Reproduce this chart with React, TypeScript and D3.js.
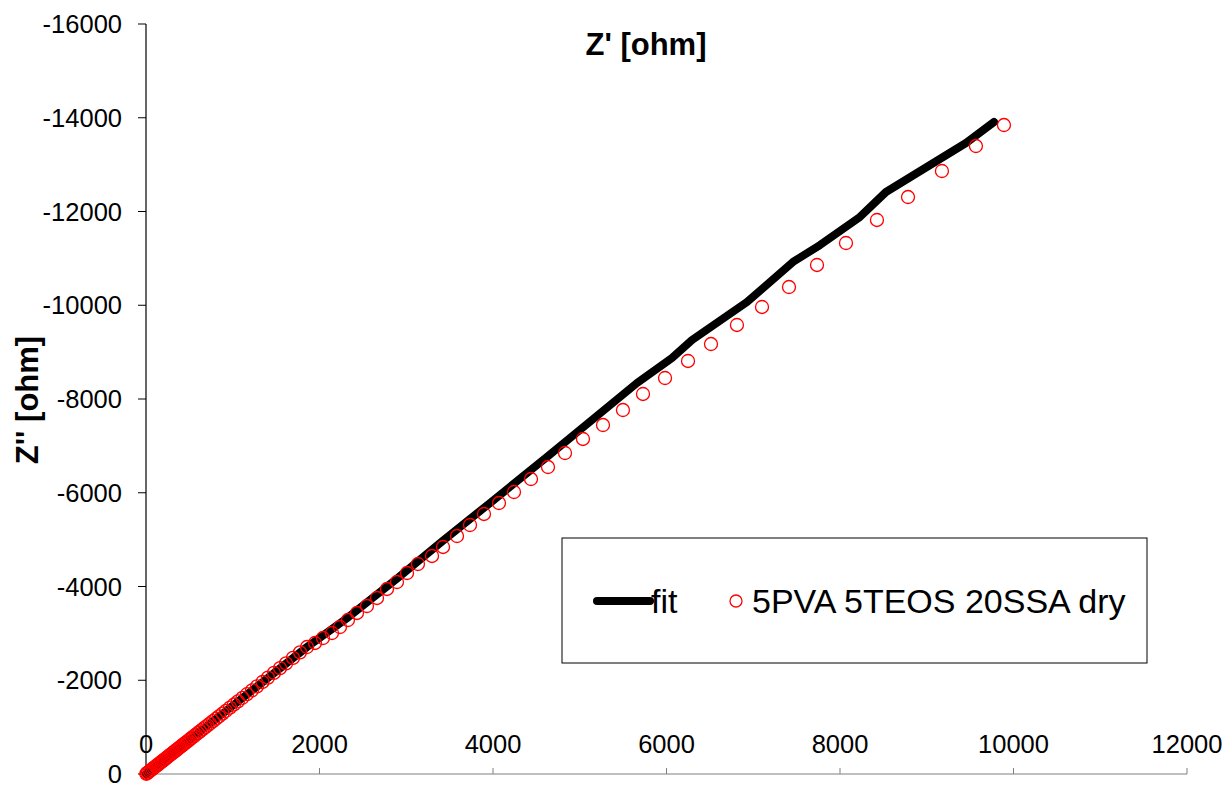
import React from "react";
import * as d3 from "d3";

// Data (Z' and Z'' in ohm)
const fitZre = [0, 1000, 1856, 2328, 2893, 3424, 3965, 4634, 5660, 6063, 6294, 6928, 7458, 7769, 8230, 8530, 9452, 9775];
const fitZim = [0, -1460, -2709, -3340, -4170, -4980, -5781, -6780, -8341, -8875, -9259, -10069, -10923, -11285, -11883, -12416, -13461, -13909];

const dataZre = [
  9890, 9567, 9175, 8784, 8426, 8069, 7735, 7412, 7101, 6812, 6513, 6248, 5983, 5729, 5498, 5268,
  5037, 4830, 4634, 4438, 4242, 4069, 3896, 3735, 3585, 3424, 3297, 3135, 3009, 2893, 2778, 2663,
  2547, 2432, 2328, 2236, 2144, 2040, 1948, 1856, 1775, 1694, 1614, 1545, 1475, 1406, 1343, 1280,
  1222, 1164, 1112, 1060, 1014, 968, 922, 882, 841, 807, 772, 738, 709, 680, 651, 622, 599, 576,
  553, 530, 507, 490, 473, 455, 438, 421, 403, 386, 369, 352, 334, 317, 300, 282, 265, 248, 231,
  213, 196, 179, 161, 144, 127, 110, 92, 75, 58, 40, 23, 12, 3,
];
const dataZim = [
  -13845, -13397, -12864, -12309, -11819, -11328, -10859, -10389, -9963, -9579, -9173, -8811, -8448,
  -8107, -7765, -7445, -7147, -6848, -6549, -6293, -6016, -5781, -5547, -5312, -5077, -4843, -4651,
  -4480, -4288, -4096, -3947, -3755, -3584, -3435, -3285, -3136, -3008, -2901, -2795, -2709, -2595,
  -2477, -2359, -2258, -2157, -2056, -1963, -1870, -1786, -1702, -1626, -1550, -1483, -1415, -1348,
  -1289, -1230, -1180, -1129, -1078, -1036, -994, -952, -910, -876, -843, -809, -775, -741, -716,
  -691, -666, -640, -615, -590, -564, -539, -514, -489, -463, -438, -413, -388, -362, -337, -312,
  -286, -261, -236, -211, -185, -160, -135, -110, -84, -59, -34, -17, -5,
];

const xTicks = [0, 2000, 4000, 6000, 8000, 10000, 12000];
const yTicks = [0, -2000, -4000, -6000, -8000, -10000, -12000, -14000, -16000];

const seriesNames = ["fit", "5PVA 5TEOS 20SSA dry"];
const xTitle = "Z' [ohm]";
const yTitle = "Z'' [ohm]";

const W = 1229;
const H = 787;
const FONT = "'Liberation Sans', Arial, sans-serif";

export default function App() {
  const x = d3.scaleLinear().domain([0, 12000]).range([146, 1187]);
  const y = d3.scaleLinear().domain([0, -16000]).range([774, 24]);

  const fitPts: [number, number][] = fitZre.map((v, i) => [v, fitZim[i]]);
  const line = d3
    .line<[number, number]>()
    .x((d) => x(d[0]))
    .y((d) => y(d[1]));

  return (
    <svg
      width={W}
      height={H}
      style={{ position: "absolute", left: 0, top: 0, background: "#fff" }}
      fontFamily={FONT}
    >
      <rect x={0} y={0} width={W} height={H} fill="#fff" />

      {/* Y axis */}
      <line x1={x(0)} x2={x(0)} y1={y(-16000)} y2={y(0)} stroke="#000" strokeWidth={1.2} />
      {yTicks.map((t) => (
        <g key={"y" + t}>
          <line x1={x(0) - 8} x2={x(0)} y1={y(t)} y2={y(t)} stroke="#000" strokeWidth={1} />
          <text x={122} y={y(t) + 9} textAnchor="end" fontSize={25.5} fill="#000">
            {t}
          </text>
        </g>
      ))}

      {/* X axis */}
      <line x1={x(0)} x2={x(12000)} y1={y(0)} y2={y(0)} stroke="#808080" strokeWidth={1.2} />
      {xTicks.map((t) => (
        <g key={"x" + t}>
          <line x1={x(t)} x2={x(t)} y1={y(0) - 6} y2={y(0)} stroke="#808080" strokeWidth={1} />
          <text x={x(t)} y={753} textAnchor="middle" fontSize={25.5} fill="#000">
            {t}
          </text>
        </g>
      ))}

      {/* Titles */}
      <text x={646} y={55} textAnchor="middle" fontSize={31} fontWeight="bold" fill="#000">
        {xTitle}
      </text>
      <text
        transform={`translate(38,400) rotate(-90)`}
        textAnchor="middle"
        fontSize={31}
        fontWeight="bold"
        fill="#000"
      >
        {yTitle}
      </text>

      {/* Fit line */}
      <path
        d={line(fitPts) || ""}
        fill="none"
        stroke="#000"
        strokeWidth={8}
        strokeLinecap="round"
        strokeLinejoin="round"
      />

      {/* Data points */}
      {dataZre.map((v, i) => (
        <circle
          key={"p" + i}
          cx={x(v)}
          cy={y(dataZim[i])}
          r={6.5}
          fill="none"
          stroke="#FF0000"
          strokeWidth={1.3}
        />
      ))}

      {/* Legend */}
      <rect x={562} y={538} width={585} height={125} fill="#fff" stroke="#000" strokeWidth={1} />
      <line x1={597} x2={650} y1={601} y2={601} stroke="#000" strokeWidth={8} strokeLinecap="round" />
      <text x={651} y={613} fontSize={34} fill="#000">
        {seriesNames[0]}
      </text>
      <circle cx={736} cy={601} r={6} fill="none" stroke="#FF0000" strokeWidth={1.3} />
      <text x={752} y={613} fontSize={34} fill="#000">
        {seriesNames[1]}
      </text>
    </svg>
  );
}
